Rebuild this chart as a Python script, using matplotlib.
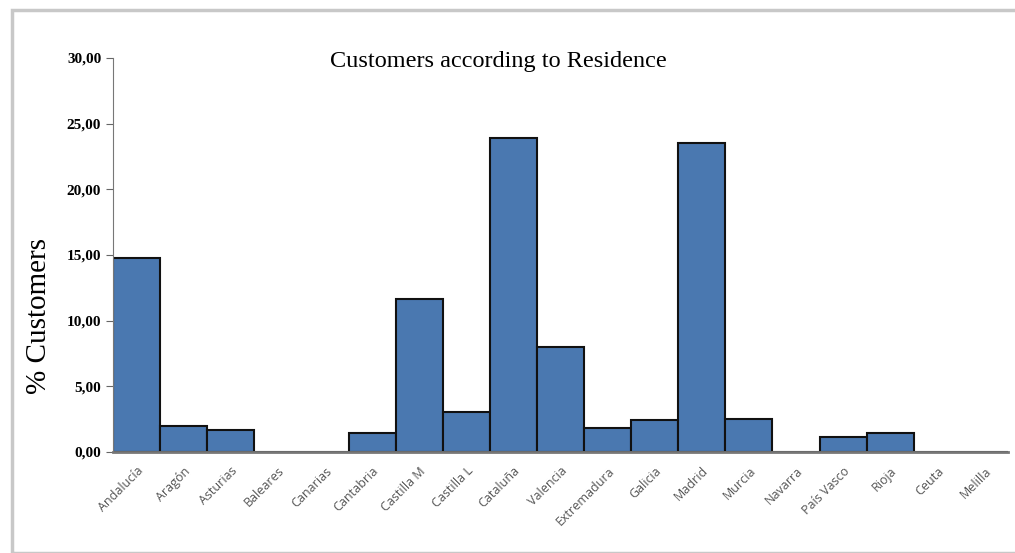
import matplotlib.pyplot as plt
from matplotlib.patches import Rectangle
from matplotlib.ticker import FuncFormatter

regions = ["Andalucía", "Aragón", "Asturias", "Baleares", "Canarias", "Cantabria",
           "Castilla M", "Castilla L", "Cataluña", "Valencia", "Extremadura", "Galicia",
           "Madrid", "Murcia", "Navarra", "País Vasco", "Rioja", "Ceuta", "Melilla"]
pct_customers = [14.75, 1.95, 1.7, 0.0, 0.0, 1.42, 11.68, 3.04, 23.9, 7.97, 1.85, 2.44,
                 23.5, 2.49, 0.0, 1.17, 1.45, 0.0, 0.0]

fig = plt.figure(figsize=(10.15, 5.53), dpi=100)
# picture frame
fig.patches.append(Rectangle((12 / 1015, 0.0), 1.0, 1 - 10 / 553, transform=fig.transFigure,
                             fill=False, edgecolor="#c8c8c8", linewidth=2.5))

ax = fig.add_axes([113 / 1015, 101 / 553, 895 / 1015, 394 / 553])
x = range(len(regions))
ax.bar(x, pct_customers, width=1.0, color="#4a78b0", edgecolor="#111111", linewidth=1.5)

ax.set_xlim(-0.5, len(regions) - 0.5)
ax.set_ylim(0, 30)
ax.set_yticks(range(0, 31, 5))
ax.yaxis.set_major_formatter(FuncFormatter(lambda v, p: f"{v:.2f}".replace(".", ",")))
ax.tick_params(axis="y", labelsize=11, direction="out", length=5, color="#666666")
for lab in ax.get_yticklabels():
    lab.set_fontfamily("Liberation Serif")
    lab.set_fontweight("bold")

ax.set_xticks(list(x))
ax.set_xticklabels(regions, rotation=45, ha="right", rotation_mode="anchor",
                   fontsize=9, color="#555555", family="Open Sans")
ax.tick_params(axis="x", length=0, pad=9)

for side in ["top", "right"]:
    ax.spines[side].set_visible(False)
ax.spines["left"].set_color("#777777")
ax.spines["bottom"].set_color("#777777")
ax.spines["bottom"].set_linewidth(2)

ax.set_ylabel("% Customers", family="Liberation Serif", fontsize=21)
ax.yaxis.set_label_coords(-0.068, 0.345)
fig.text(498 / 1015, 1 - 61 / 553, "Customers according to Residence", ha="center", va="center",
         family="Liberation Serif", fontsize=17.5)

fig.savefig("out.png", dpi=100)
